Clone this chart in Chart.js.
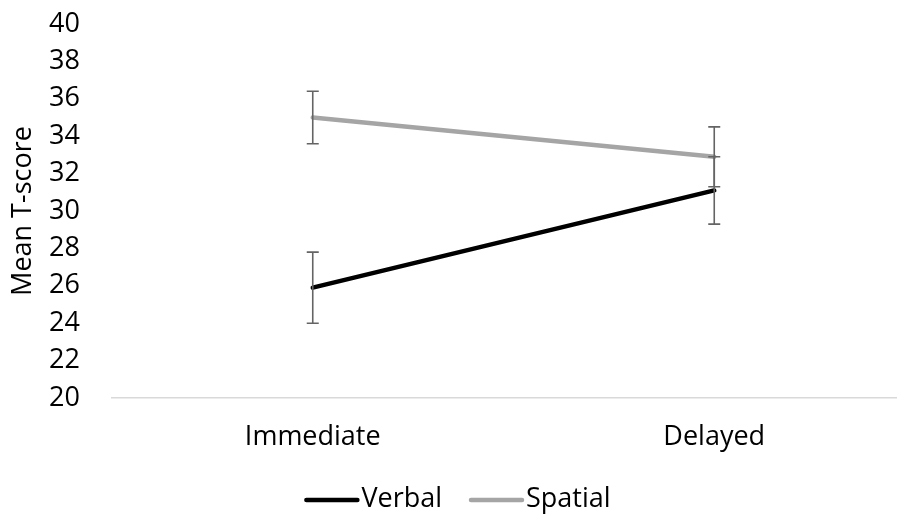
<!DOCTYPE html>
<html>
<head>
<meta charset="utf-8">
<script src="https://cdn.jsdelivr.net/npm/chart.js@4.4.1/dist/chart.umd.min.js"></script>
<style>
  html, body { margin: 0; padding: 0; background: #fff; overflow: hidden; }
  #wrap { width: 915px; height: 518px; }
</style>
</head>
<body>
<div id="wrap"><canvas id="c" width="915" height="518"></canvas></div>
<script>
// Test phases on the category axis
const categories = ['Immediate', 'Delayed'];

// Mean T-scores per condition
const verbalMeans = [25.9, 31.1];
const spatialMeans = [35.0, 32.9];

// Error bar half-lengths (±)
const verbalErrors = [1.9, 1.8];
const spatialErrors = [1.4, 1.6];

// Value axis tick labels
const yTicks = [20, 22, 24, 26, 28, 30, 32, 34, 36, 38, 40];

const FONT = '"Open Sans", sans-serif';
const FONT_SIZE = 27;

// Vertical error bars with caps for every point of every dataset
const errorBars = {
  id: 'errorBars',
  afterDatasetsDraw(chart) {
    const ctx = chart.ctx;
    const xs = chart.scales.x, ys = chart.scales.y;
    ctx.save();
    ctx.strokeStyle = '#646464';
    ctx.lineWidth = 1.6;
    chart.data.datasets.forEach(ds => {
      ds.data.forEach((v, i) => {
        const e = ds.errors[i];
        const x = xs.getPixelForValue(i);
        const yt = ys.getPixelForValue(v + e);
        const yb = ys.getPixelForValue(v - e);
        ctx.beginPath();
        ctx.moveTo(x, yt); ctx.lineTo(x, yb);
        ctx.moveTo(x - 6, yt); ctx.lineTo(x + 6, yt);
        ctx.moveTo(x - 6, yb); ctx.lineTo(x + 6, yb);
        ctx.stroke();
      });
    });
    ctx.restore();
  }
};

// Legend along the bottom: a line sample followed closely by the series name
const lineLegend = {
  id: 'lineLegend',
  afterDraw(chart) {
    const ctx = chart.ctx;
    const sample = 55, textGap = 2, itemGap = 27;
    const y = 499;
    ctx.save();
    ctx.font = FONT_SIZE + 'px ' + FONT;
    const items = chart.data.datasets.map(ds => ({
      label: ds.label, color: ds.borderColor, w: ctx.measureText(ds.label).width
    }));
    const total = items.reduce((s, it) => s + sample + textGap + it.w, 0) + itemGap * (items.length - 1);
    let x = chart.width / 2 - total / 2;
    items.forEach(it => {
      ctx.strokeStyle = it.color;
      ctx.lineWidth = 4.5;
      ctx.lineCap = 'round';
      ctx.beginPath();
      ctx.moveTo(x + 2, y + 1);
      ctx.lineTo(x + sample - 2, y + 1);
      ctx.stroke();
      x += sample + textGap;
      ctx.fillStyle = '#000';
      ctx.textBaseline = 'middle';
      ctx.textAlign = 'left';
      ctx.fillText(it.label, x, y);
      x += it.w + itemGap;
    });
    ctx.restore();
  }
};

new Chart(document.getElementById('c'), {
  type: 'line',
  data: {
    labels: categories,
    datasets: [
      {
        label: 'Verbal',
        data: verbalMeans,
        errors: verbalErrors,
        borderColor: '#000000',
        backgroundColor: '#000000',
        borderWidth: 4.5,
        borderCapStyle: 'round',
        pointRadius: 0,
        pointHoverRadius: 0
      },
      {
        label: 'Spatial',
        data: spatialMeans,
        errors: spatialErrors,
        borderColor: '#a5a5a5',
        backgroundColor: '#a5a5a5',
        borderWidth: 4.5,
        borderCapStyle: 'round',
        pointRadius: 0,
        pointHoverRadius: 0
      }
    ]
  },
  options: {
    responsive: false,
    animation: false,
    events: [],
    layout: { padding: { top: 24, left: 0, right: 0, bottom: 60 } },
    plugins: {
      tooltip: { enabled: false },
      legend: { display: false }
    },
    scales: {
      x: {
        offset: true,
        grid: { display: false, drawTicks: false },
        border: { display: true, color: '#d9d9d9', width: 1.5 },
        ticks: { color: '#000', font: { family: FONT, size: FONT_SIZE }, padding: 23 },
        afterFit(scale) {
          scale.height = 60;
          scale.paddingLeft = 0; scale.paddingRight = 0;
        }
      },
      y: {
        min: 20,
        max: 40,
        afterBuildTicks(scale) { scale.ticks = yTicks.map(v => ({ value: v })); },
        grid: { display: false, drawTicks: false },
        border: { display: false },
        ticks: { color: '#000', font: { family: FONT, size: FONT_SIZE }, padding: 32 },
        title: {
          display: true,
          text: 'Mean T-score',
          color: '#000',
          font: { family: FONT, size: FONT_SIZE },
          padding: { top: 7, bottom: 0 }
        },
        afterFit(scale) {
          scale.width = 112;
          scale.paddingTop = 0; scale.paddingBottom = 0;
        }
      }
    }
  },
  plugins: [errorBars, lineLegend]
});
</script>
</body>
</html>
